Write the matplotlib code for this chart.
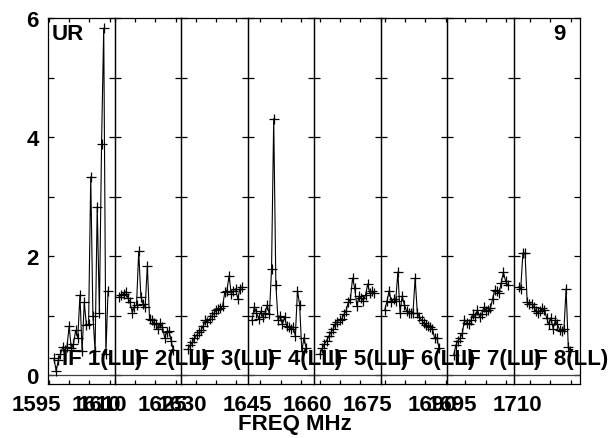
import numpy as np
import matplotlib
matplotlib.use('Agg')
import matplotlib.pyplot as plt
from matplotlib.transforms import ScaledTranslation, blended_transform_factory

plt.rcParams['font.family'] = ['Liberation Sans', 'DejaVu Sans']
plt.rcParams['font.weight'] = 'bold'

# left edge of each IF panel (MHz) and the panel width
panel_lo = [1594.83, 1609.95, 1626.41, 1641.86, 1658.56, 1673.93, 1690.47, 1705.87]
panel_width = 16.45

# first channel frequency of each IF and channel spacing (MHz)
if_first = [1596.24, 1611.06, 1628.09, 1642.95, 1660.04, 1674.99, 1692.10, 1707.11]
chan_width = 0.535

if_names = ['IF 1(LL)', 'IF 2(LL)', 'IF 3(LL)', 'IF 4(LL)',
            'IF 5(LL)', 'IF 6(LL)', 'IF 7(LL)', 'IF 8(LL)']

if1 = [0.28, 0.07, 0.25, 0.35, 0.47, 0.42, 0.48, 0.82, 0.45, 0.52, 0.75, 0.62, 1.34,
       0.40, 1.22, 0.84, 0.85, 3.33, 1.00, 0.40, 2.83, 1.05, 3.88, 5.83, 0.35, 1.41]
if2 = [1.32, 1.34, 1.37, 1.40, 1.30, 1.22, 1.05, 1.15, 1.18, 2.08, 1.32, 1.20, 1.15,
       1.84, 0.95, 0.92, 0.88, 0.85, 0.78, 0.88, 0.80, 0.63, 0.72, 0.74, 0.58, 0.42]
if3 = [0.44, 0.50, 0.55, 0.62, 0.67, 0.72, 0.75, 0.82, 0.92, 0.89, 0.94, 0.99, 1.04,
       1.09, 1.11, 1.12, 1.16, 1.39, 1.42, 1.67, 1.36, 1.42, 1.45, 1.28, 1.45, 1.48]
if4 = [0.92, 1.14, 1.05, 0.95, 1.07, 0.98, 1.05, 1.18, 1.02, 1.78, 4.31, 1.52, 0.92,
       1.00, 0.85, 0.97, 0.83, 0.80, 0.78, 0.80, 0.66, 1.42, 1.18, 0.40, 0.63, 0.45]
if5 = [0.36, 0.45, 0.52, 0.58, 0.65, 0.72, 0.77, 0.86, 0.90, 0.92, 0.94, 1.02, 1.08,
       1.22, 1.27, 1.63, 1.46, 1.16, 1.33, 1.30, 1.25, 1.34, 1.53, 1.38, 1.41, 1.38]
if6 = [1.10, 1.25, 1.42, 1.22, 1.28, 1.25, 1.73, 1.05, 1.33, 1.18, 1.08, 1.04, 1.04,
       1.05, 1.63, 1.04, 0.97, 0.92, 0.87, 0.84, 0.82, 0.80, 0.78, 0.62, 0.63, 0.46]
if7 = [0.33, 0.50, 0.58, 0.62, 0.70, 0.93, 0.88, 0.86, 0.92, 1.02, 0.98, 1.10, 0.98,
       1.02, 1.14, 1.08, 1.09, 1.12, 1.28, 1.43, 1.42, 1.38, 1.55, 1.73, 1.58, 1.52]
if8 = [1.48, 1.44, 2.05, 2.05, 1.22, 1.20, 1.19, 1.15, 1.08, 1.05, 1.08, 1.12, 1.10,
       0.96, 0.85, 0.96, 0.78, 0.92, 0.85, 0.76, 0.74, 0.77, 1.45, 0.48, 0.40]
spectra = [if1, if2, if3, if4, if5, if6, if7, if8]

# which tick values get a label in each panel
xlab_shown = [[1595, 1610], [1610, 1625], [1630], [1645], [1660, 1675], [1690], [1695], [1710]]

yticks = [0, 1, 2, 3, 4, 5, 6]
ytick_labels = ['0', '', '2', '', '4', '', '6']

fs = 16
fig = plt.figure(figsize=(6.16, 4.39), dpi=100)
gs = fig.add_gridspec(1, 8, left=48.3/616, right=580/616,
                      bottom=1-385/439, top=1-19/439, wspace=0)
shift = ScaledTranslation(-13/100, 0, fig.dpi_scale_trans)

for i in range(8):
    ax = fig.add_subplot(gs[0, i])
    ax.patch.set_visible(False)  # so the IF labels can run into the next panel
    vals = spectra[i]
    x = if_first[i] + chan_width*np.arange(len(vals))
    ax.axhline(0, color='0.25', lw=0.9)
    ax.plot(x, vals, color='k', lw=0.8, marker='+', ms=7, mew=0.9)
    lo = panel_lo[i]
    ax.set_xlim(lo, lo+panel_width)
    ax.set_ylim(-0.15, 6.0)
    ax.set_yticks(yticks)
    if i == 0:
        ax.set_yticklabels(ytick_labels)
    ax.tick_params(axis='y', direction='in', left=True, right=True, length=4.2,
                   width=0.9, labelleft=(i == 0), labelsize=fs, pad=7)
    ticks = np.arange(np.ceil(lo/5)*5, lo+panel_width, 5)
    ax.set_xticks(ticks, [str(int(t)) if int(t) in xlab_shown[i] else '' for t in ticks])
    ax.tick_params(axis='x', direction='in', top=True, bottom=True, length=3,
                   width=0.9, labelsize=fs, pad=7)
    for t in ax.xaxis.get_major_ticks():
        t.label1.set_transform(t.label1.get_transform() + shift)
    for s in ax.spines.values():
        s.set_linewidth(0.9)
    ax.text(14/66.46, 0.18, if_names[i],
            transform=blended_transform_factory(ax.transAxes, ax.transData),
            ha='left', va='baseline', fontsize=fs, fontweight='bold',
            clip_on=False, zorder=5)
    if i == 0:
        ax.text(0.05, 0.985, 'UR', transform=ax.transAxes, ha='left', va='top',
                fontsize=fs, fontweight='bold')
    if i == 7:
        ax.text(0.79, 0.985, '9', transform=ax.transAxes, ha='right', va='top',
                fontsize=fs, fontweight='bold')

fig.text(295/616, 1-425/439, 'FREQ MHz', ha='center', va='center',
         fontsize=fs, fontweight='bold')

fig.savefig('out.png', dpi=100)
